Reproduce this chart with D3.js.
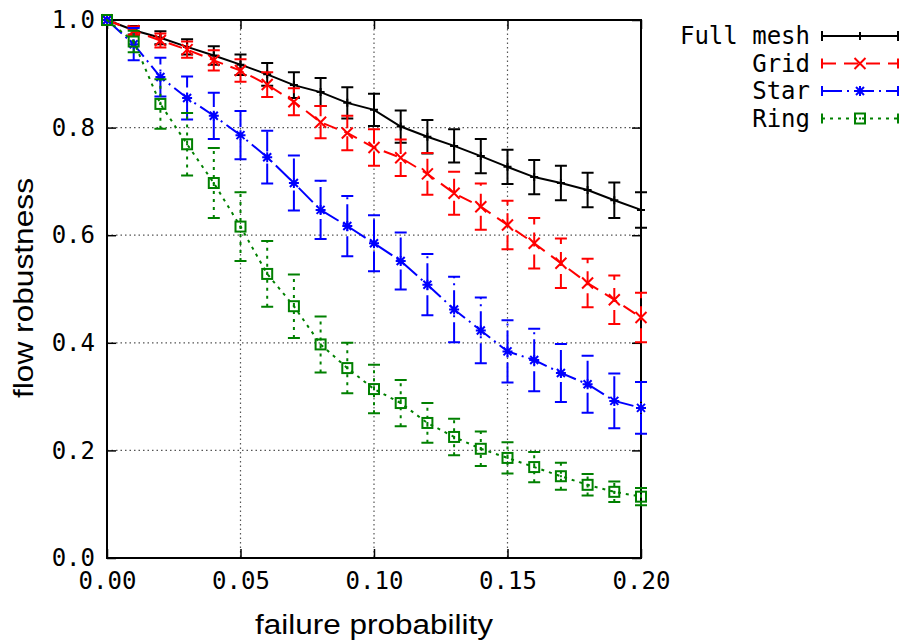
<!DOCTYPE html>
<html>
<head>
<meta charset="utf-8">
<script src="https://cdn.jsdelivr.net/npm/d3@7"></script>
<style>
  body { margin: 0; background: #fff; }
  svg { display: block; }
</style>
</head>
<body>
<div id="chart"></div>
<script>
// Data.
const probs = [0, 0.01, 0.02, 0.03, 0.04, 0.05, 0.06, 0.07, 0.08, 0.09, 0.10,
               0.11, 0.12, 0.13, 0.14, 0.15, 0.16, 0.17, 0.18, 0.19, 0.20];

const meshVals = [1.0, 0.981, 0.967, 0.950, 0.934, 0.917, 0.899, 0.879, 0.866, 0.846, 0.833,
                  0.802, 0.783, 0.766, 0.747, 0.727, 0.708, 0.697, 0.684, 0.665, 0.647];
const meshErr = [0, 0.008, 0.012, 0.014, 0.017, 0.019, 0.021, 0.024, 0.026, 0.029, 0.030,
                 0.030, 0.031, 0.031, 0.032, 0.032, 0.032, 0.032, 0.032, 0.033, 0.033];

const gridVals = [1.0, 0.980, 0.962, 0.945, 0.925, 0.906, 0.880, 0.848, 0.810, 0.790, 0.763,
                  0.744, 0.714, 0.678, 0.653, 0.619, 0.585, 0.548, 0.511, 0.480, 0.447];
const gridErr = [0, 0.008, 0.013, 0.015, 0.019, 0.021, 0.023, 0.025, 0.030, 0.032, 0.034,
                 0.034, 0.039, 0.040, 0.043, 0.045, 0.047, 0.046, 0.045, 0.045, 0.046];

const starVals = [1.0, 0.955, 0.894, 0.855, 0.822, 0.786, 0.745, 0.697, 0.647, 0.617, 0.585,
                  0.552, 0.508, 0.462, 0.423, 0.384, 0.368, 0.344, 0.323, 0.292, 0.279];
const starErr = [0, 0.030, 0.036, 0.040, 0.043, 0.045, 0.049, 0.051, 0.054, 0.056, 0.052,
                 0.053, 0.057, 0.061, 0.061, 0.058, 0.058, 0.054, 0.053, 0.051, 0.048];

const ringVals = [1.0, 0.960, 0.844, 0.769, 0.697, 0.616, 0.528, 0.468, 0.397, 0.353, 0.314,
                  0.288, 0.251, 0.225, 0.203, 0.186, 0.169, 0.152, 0.136, 0.123, 0.114];
const ringErr = [0, 0.020, 0.046, 0.058, 0.065, 0.064, 0.061, 0.059, 0.052, 0.047, 0.045,
                 0.043, 0.037, 0.034, 0.032, 0.029, 0.028, 0.025, 0.020, 0.019, 0.016];

const xTicks = [0, 0.05, 0.10, 0.15, 0.20];
const yTicks = [0, 0.2, 0.4, 0.6, 0.8, 1.0];

const series = [
  { name: 'Full mesh', vals: meshVals, err: meshErr, color: '#000000', dash: null, marker: 'plus' },
  { name: 'Grid', vals: gridVals, err: gridErr, color: '#ff0000', dash: '14,8', marker: 'cross' },
  { name: 'Star', vals: starVals, err: starErr, color: '#0000ff', dash: '20,5,2,5', marker: 'star' },
  { name: 'Ring', vals: ringVals, err: ringErr, color: '#008000', dash: '3,5', marker: 'square' }
];

const W = 904, H = 644;
const plotL = 107, plotR = 641, plotT = 20, plotB = 558;
const monoFont = '"DejaVu Sans Mono", monospace';
const sansFont = '"Liberation Sans", Arial, sans-serif';
const monoSize = '24px';

const svg = d3.select('#chart').append('svg')
  .attr('width', W)
  .attr('height', H);

const x = d3.scaleLinear().domain([0, 0.2]).range([plotL, plotR]);
const y = d3.scaleLinear().domain([0, 1]).range([plotB, plotT]);

// Grid lines
svg.append('g').selectAll('line')
  .data(xTicks.slice(1, -1))
  .enter().append('line')
  .attr('x1', d => x(d)).attr('x2', d => x(d))
  .attr('y1', plotT).attr('y2', plotB)
  .attr('stroke', '#555').attr('stroke-width', 1.2)
  .attr('stroke-dasharray', '1.5,3');

svg.append('g').selectAll('line')
  .data(yTicks.slice(1, -1))
  .enter().append('line')
  .attr('x1', plotL).attr('x2', plotR)
  .attr('y1', d => y(d)).attr('y2', d => y(d))
  .attr('stroke', '#555').attr('stroke-width', 1.2)
  .attr('stroke-dasharray', '1.5,3');

// Axes with inward ticks, mirrored on top and right (gnuplot look)
const tickLen = 9;
function styleAxis(g) {
  g.select('.domain').remove();
  g.selectAll('.tick line').attr('stroke', '#000').attr('stroke-width', 1.5);
  g.selectAll('.tick text')
    .attr('fill', '#000')
    .style('font-family', monoFont)
    .style('font-size', monoSize);
}

svg.append('g')
  .attr('transform', `translate(0,${plotB})`)
  .call(d3.axisBottom(x).tickValues(xTicks).tickFormat(d3.format('.2f'))
    .tickSizeInner(-tickLen).tickSizeOuter(0).tickPadding(14))
  .call(styleAxis);

svg.append('g')
  .attr('transform', `translate(${plotL},0)`)
  .call(d3.axisLeft(y).tickValues(yTicks).tickFormat(d3.format('.1f'))
    .tickSizeInner(-tickLen).tickSizeOuter(0).tickPadding(12))
  .call(styleAxis);

svg.append('g')
  .attr('transform', `translate(0,${plotT})`)
  .call(d3.axisTop(x).tickValues(xTicks).tickFormat('')
    .tickSizeInner(-tickLen).tickSizeOuter(0))
  .call(styleAxis);

svg.append('g')
  .attr('transform', `translate(${plotR},0)`)
  .call(d3.axisRight(y).tickValues(yTicks).tickFormat('')
    .tickSizeInner(-tickLen).tickSizeOuter(0))
  .call(styleAxis);

// Border
svg.append('rect')
  .attr('x', plotL).attr('y', plotT)
  .attr('width', plotR - plotL).attr('height', plotB - plotT)
  .attr('fill', 'none').attr('stroke', '#000').attr('stroke-width', 2);

// Axis titles
svg.append('text')
  .attr('x', 374).attr('y', 634)
  .attr('text-anchor', 'middle')
  .attr('textLength', 238).attr('lengthAdjust', 'spacingAndGlyphs')
  .style('font-family', sansFont).style('font-size', '27px')
  .text('failure probability');

svg.append('text')
  .attr('transform', 'translate(33,288) rotate(-90)')
  .attr('text-anchor', 'middle')
  .attr('textLength', 220).attr('lengthAdjust', 'spacingAndGlyphs')
  .style('font-family', sansFont).style('font-size', '27px')
  .text('flow robustness');

// Marker drawing
function drawMarker(g, type, cx, cy, color) {
  const m = g.append('g').attr('transform', `translate(${cx},${cy})`)
    .attr('stroke', color).attr('stroke-width', 2).attr('fill', 'none');
  if (type === 'plus') {
    m.append('path').attr('d', 'M-4,0H4M0,-4V4');
  } else if (type === 'cross') {
    m.append('path').attr('d', 'M-5.5,-5.5L5.5,5.5M-5.5,5.5L5.5,-5.5');
  } else if (type === 'star') {
    m.append('path').attr('d', 'M-5,0H5M0,-5V5M-4,-4L4,4M-4,4L4,-4');
  } else if (type === 'square') {
    m.append('rect').attr('x', -5).attr('y', -5).attr('width', 10).attr('height', 10);
    m.append('rect').attr('x', -1).attr('y', -1).attr('width', 2).attr('height', 2)
      .attr('fill', color).attr('stroke', 'none');
  }
}

const line = d3.line()
  .x(d => x(d.p))
  .y(d => y(d.v));

const capW = 6;

series.forEach(s => {
  const pts = probs.map((p, i) => ({ p: p, v: s.vals[i], e: s.err[i] }));
  const g = svg.append('g');

  // Error bars
  const eb = g.append('g')
    .attr('stroke', s.color).attr('stroke-width', 2).attr('fill', 'none');
  pts.filter(d => d.e > 0).forEach(d => {
    const px = x(d.p), y0 = y(d.v - d.e), y1 = y(d.v + d.e);
    eb.append('path')
      .attr('d', `M${px},${y0}V${y1}`)
      .attr('stroke-dasharray', s.dash);
    eb.append('path')
      .attr('d', `M${px - capW},${y0}H${px + capW}M${px - capW},${y1}H${px + capW}`);
  });

  // Line
  g.append('path')
    .datum(pts)
    .attr('d', line)
    .attr('fill', 'none')
    .attr('stroke', s.color)
    .attr('stroke-width', 2)
    .attr('stroke-dasharray', s.dash);

  // Markers
  pts.forEach(d => drawMarker(g, s.marker, x(d.p), y(d.v), s.color));
});

// Legend
const legX0 = 822, legX1 = 898, legTextX = 810, legY0 = 36, legStep = 27.5;
series.forEach((s, i) => {
  const ly = legY0 + i * legStep;
  const g = svg.append('g');
  g.append('text')
    .attr('x', legTextX).attr('y', ly)
    .attr('dy', '0.35em')
    .attr('text-anchor', 'end')
    .style('font-family', monoFont).style('font-size', monoSize)
    .text(s.name);
  g.append('path')
    .attr('d', `M${legX0},${ly}H${legX1}`)
    .attr('stroke', s.color).attr('stroke-width', 2)
    .attr('stroke-dasharray', s.dash);
  g.append('path')
    .attr('d', `M${legX0},${ly - 5}V${ly + 5}M${legX1},${ly - 5}V${ly + 5}`)
    .attr('stroke', s.color).attr('stroke-width', 2);
  drawMarker(g, s.marker, (legX0 + legX1) / 2, ly, s.color);
});
</script>
</body>
</html>
